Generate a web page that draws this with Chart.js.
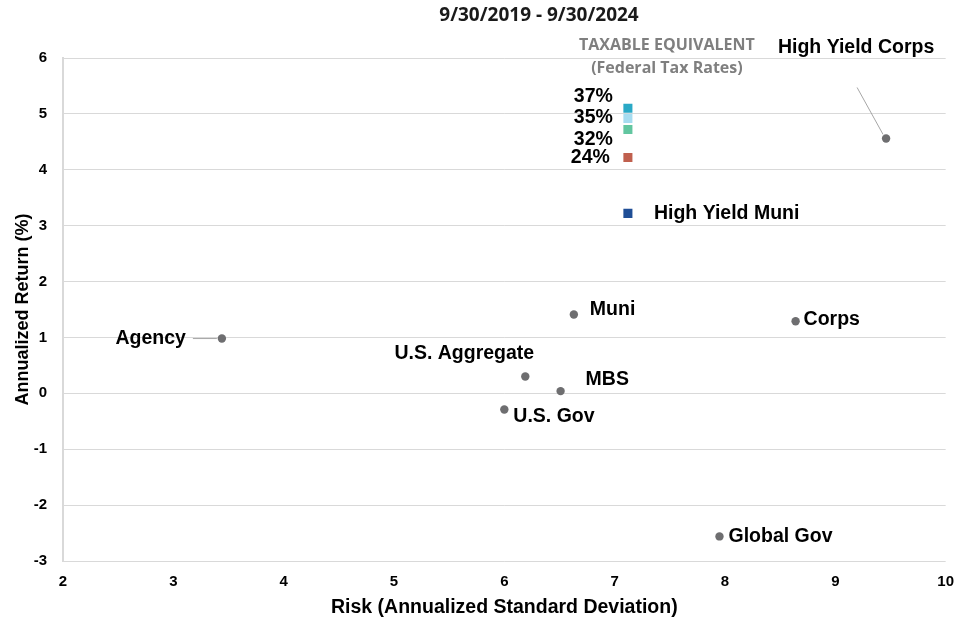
<!DOCTYPE html>
<html>
<head>
<meta charset="utf-8">
<script src="https://cdn.jsdelivr.net/npm/chart.js@4/dist/chart.umd.min.js"></script>
<style>
  html, body { margin: 0; padding: 0; background: #fff; overflow: hidden; }
  #wrap { width: 954px; height: 617px; position: relative; overflow: hidden; }
</style>
</head>
<body>
<div id="wrap"><canvas id="riskChart" width="966" height="617"></canvas></div>
<script>
// index data
let names = ['Agency', 'U.S. Aggregate', 'U.S. Gov', 'MBS', 'Muni', 'Global Gov', 'Corps', 'High Yield Corps'];
let risk = [3.44, 6.19, 6.00, 6.51, 6.63, 7.95, 8.64, 9.46];
let returns = [0.98, 0.30, -0.29, 0.04, 1.41, -2.56, 1.29, 4.56];

let hyMuniRisk = [7.12];
let hyMuniReturn = [3.22];

let taxRates = ['37%', '35%', '32%', '24%'];
let taxEquivReturn = [5.10, 4.92, 4.72, 4.22];
let taxColors = ['#2aa9c6', '#a6dcf0', '#62c6a0', '#c0604e'];

let xTicks = [2, 3, 4, 5, 6, 7, 8, 9, 10];
let yTicks = [-3, -2, -1, 0, 1, 2, 3, 4, 5, 6];

// label offsets from each point (px) - [dx, dy, align]
let labelPos = {
  'Agency': [-36, 0, 'right'],
  'U.S. Aggregate': [-61, -23, 'center'],
  'U.S. Gov': [9, 7, 'left'],
  'MBS': [25, -11, 'left'],
  'Muni': [16, -5, 'left'],
  'Global Gov': [9, 0, 'left'],
  'Corps': [8, -2, 'left'],
  'High Yield Corps': [-30, -91, 'center'],
  'High Yield Muni': [26, 0, 'left'],
  '37%': [-15, -12, 'right'],
  '35%': [-15, -1, 'right'],
  '32%': [-15, 10, 'right'],
  '24%': [-18, 0, 'right']
};

Chart.defaults.font.family = '"Liberation Sans", Arial, sans-serif';
Chart.defaults.color = '#000';

let labelPlugin = {
  id: 'pointLabels',
  afterDatasetsDraw(chart) {
    let ctx = chart.ctx;
    ctx.save();
    ctx.font = 'bold 19.5px "Liberation Sans", Arial, sans-serif';
    ctx.fillStyle = '#000';
    ctx.textBaseline = 'middle';
    chart.data.datasets.forEach((ds, i) => {
      let meta = chart.getDatasetMeta(i);
      meta.data.forEach((pt, j) => {
        let txt = ds.labels[j];
        let p = labelPos[txt];
        if (!p) return;
        ctx.textAlign = p[2];
        ctx.fillText(txt, pt.x + p[0], pt.y + p[1]);
        // leader lines
        if (txt === 'Agency') {
          ctx.strokeStyle = '#a6a6a6';
          ctx.lineWidth = 1;
          ctx.beginPath();
          ctx.moveTo(pt.x + p[0] + 7, pt.y);
          ctx.lineTo(pt.x - 5, pt.y);
          ctx.stroke();
        }
        if (txt === 'High Yield Corps') {
          ctx.strokeStyle = '#a6a6a6';
          ctx.lineWidth = 1;
          ctx.beginPath();
          ctx.moveTo(pt.x + p[0] + 1, pt.y + p[1] + 40);
          ctx.lineTo(pt.x - 3, pt.y - 4);
          ctx.stroke();
        }
      });
    });
    // title and tax note
    ctx.textAlign = 'center';
    ctx.font = 'bold 19px "Open Sans", sans-serif';
    ctx.fillStyle = '#1a1a1a';
    ctx.fillText('9/30/2019 - 9/30/2024', 539, 16);
    let tx = chart.scales.x.getPixelForValue(hyMuniRisk[0]);
    ctx.font = 'bold 16px "Open Sans", sans-serif';
    ctx.fillStyle = '#7f7f7f';
    ctx.fillText('TAXABLE EQUIVALENT', tx + 39, 45);
    ctx.fillText('(Federal Tax Rates)', tx + 39, 68);
    ctx.restore();
  }
};

new Chart(document.getElementById('riskChart'), {
  type: 'scatter',
  data: {
    datasets: [
      {
        labels: names,
        data: risk.map((r, i) => ({ x: r, y: returns[i] })),
        backgroundColor: '#6e6e70',
        borderWidth: 0,
        pointRadius: 4.2,
        pointHoverRadius: 4.2
      },
      {
        labels: ['High Yield Muni'],
        data: hyMuniRisk.map((r, i) => ({ x: r, y: hyMuniReturn[i] })),
        backgroundColor: '#1f4e96',
        borderWidth: 0,
        pointStyle: 'rect',
        pointRadius: 6.4,
        pointHoverRadius: 6.4
      },
      {
        labels: taxRates,
        data: taxEquivReturn.map(v => ({ x: hyMuniRisk[0], y: v })),
        backgroundColor: taxColors,
        borderWidth: 0,
        pointStyle: 'rect',
        pointRadius: 6.4,
        pointHoverRadius: 6.4
      }
    ]
  },
  options: {
    responsive: false,
    animation: false,
    layout: { padding: { top: 58, left: 0, right: 0, bottom: 0 } },
    plugins: {
      legend: { display: false },
      tooltip: { enabled: false }
    },
    scales: {
      x: {
        type: 'linear',
        min: xTicks[0],
        max: xTicks[xTicks.length - 1],
        afterBuildTicks: axis => { axis.ticks = xTicks.map(v => ({ value: v })); },
        afterFit: axis => { axis.height = 56; },
        grid: { display: false, drawTicks: false },
        border: { display: false },
        ticks: { font: { size: 15, weight: 'bold' }, color: '#000', padding: 12 },
        title: {
          display: true,
          text: 'Risk (Annualized Standard Deviation)',
          font: { size: 19.5, weight: 'bold' },
          color: '#000',
          padding: { top: 0, bottom: -2 }
        }
      },
      y: {
        type: 'linear',
        min: yTicks[0],
        max: yTicks[yTicks.length - 1],
        afterBuildTicks: axis => { axis.ticks = yTicks.map(v => ({ value: v })); },
        afterFit: axis => { axis.width = 63; },
        grid: { color: '#d9d9d9', lineWidth: 1, drawTicks: false },
        border: { display: true, color: '#d9d9d9', width: 2 },
        ticks: { font: { size: 15, weight: 'bold' }, color: '#000', padding: 16 },
        title: {
          display: true,
          text: 'Annualized Return (%)',
          font: { size: 18, weight: 'bold' },
          color: '#000',
          padding: { top: 12, bottom: 0 }
        }
      }
    }
  },
  plugins: [labelPlugin]
});
</script>
</body>
</html>
